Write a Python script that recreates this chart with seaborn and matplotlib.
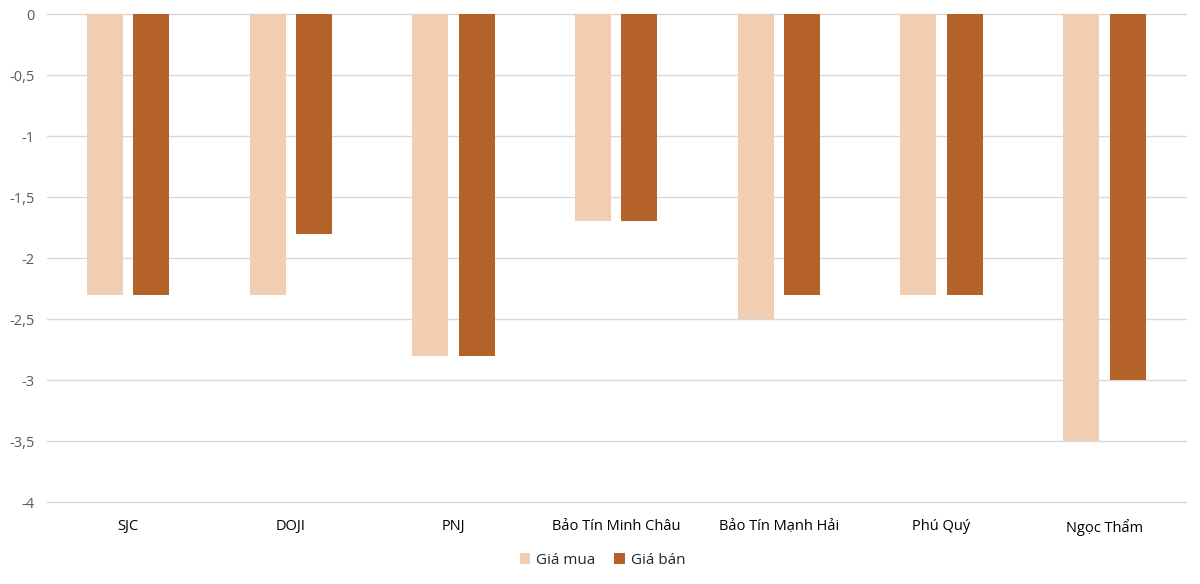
import matplotlib
matplotlib.use("Agg")
import matplotlib.pyplot as plt
import seaborn as sns
import pandas as pd
from matplotlib.ticker import FuncFormatter, MultipleLocator

categories = ["SJC", "DOJI", "PNJ", "Bảo Tín Minh Châu", "Bảo Tín Mạnh Hải", "Phú Quý", "Ngọc Thẩm"]
gia_mua = [-2.3, -2.3, -2.8, -1.7, -2.5, -2.3, -3.5]
gia_ban = [-2.3, -1.8, -2.8, -1.7, -2.3, -2.3, -3.0]
series = ["Giá mua", "Giá bán"]
colors = ["#F1CDB1", "#B5612A"]

df = pd.DataFrame({
    "cat": categories * 2,
    "val": gia_mua + gia_ban,
    "series": [series[0]] * len(categories) + [series[1]] * len(categories),
})

sns.set_theme(style="white")
plt.rcParams["font.family"] = ["Open Sans", "DejaVu Sans"]

fig = plt.figure(figsize=(12, 5.84), dpi=100)
ax = fig.add_axes([0.039, 0.1404, 0.949, 0.8356])

sns.barplot(data=df, x="cat", y="val", hue="series", hue_order=series,
            palette=colors, width=0.572, gap=0.227, ax=ax, errorbar=None,
            saturation=1, linewidth=0)

ax.set_ylim(-4, 0)
ax.set_xlim(-0.5, len(categories) - 0.5)
ax.yaxis.set_major_locator(MultipleLocator(0.5))
ax.yaxis.set_major_formatter(FuncFormatter(lambda v, p: ("%g" % v).replace(".", ",") if abs(v) > 1e-9 else "0"))
ax.grid(axis="y", color="#D9D9D9", linewidth=1)
for gl in ax.get_ygridlines():
    gl.set_clip_on(False)
ax.set_axisbelow(True)
for s in ax.spines.values():
    s.set_visible(False)
ax.set_xlabel("")
ax.set_ylabel("")
ax.tick_params(axis="y", labelsize=10.5, labelcolor="#595959", length=0, pad=9)
ax.tick_params(axis="x", labelsize=10.5, labelcolor="#000000", length=0, pad=12)

handles, labels = ax.get_legend_handles_labels()
ax.get_legend().remove()
fig.legend(handles, labels, loc="center", bbox_to_anchor=(0.502, 0.040), ncol=2, frameon=False,
           fontsize=11, handlelength=0.7, handleheight=0.7, handletextpad=0.4, columnspacing=1.2)

fig.savefig("out.png", dpi=100)
